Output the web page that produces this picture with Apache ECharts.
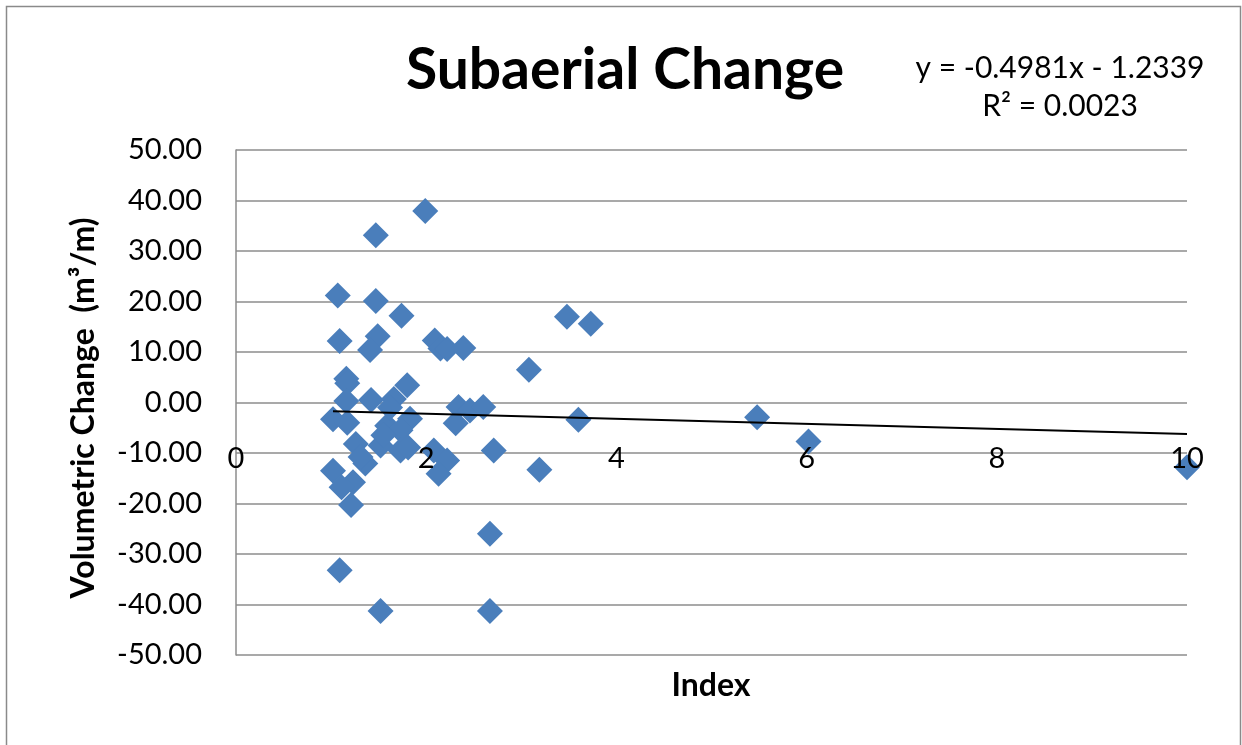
<!DOCTYPE html>
<html>
<head>
<meta charset="utf-8">
<script src="https://cdn.jsdelivr.net/npm/echarts@6/dist/echarts.min.js"></script>
<style>
html,body{margin:0;padding:0;background:#fff;}
#chart{width:1242px;height:745px;}
</style>
</head>
<body>
<div id="chart"></div>
<script>
// Index values (x) and volumetric change values (y)
var indexValues = [1.99, 1.47, 1.07, 1.47, 1.74, 1.09, 1.49, 1.41, 2.09, 2.15, 2.22, 2.39,
  3.08, 1.16, 1.17, 1.80, 1.16, 1.42, 1.66, 2.34, 2.46, 2.60, 1.02, 1.17, 1.59, 1.83,
  1.73, 2.31, 1.26, 1.52, 1.73, 1.81, 2.08, 2.22, 2.13, 2.71, 1.36, 1.31, 1.02, 1.23,
  1.11, 1.21, 3.19, 2.67, 1.09, 1.52, 2.67, 3.48, 3.73, 3.60, 5.48, 6.02, 10.0, 1.62, 1.55];
var changeValues = [37.9, 33.1, 21.2, 20.1, 17.2, 12.2, 13.1, 10.4, 12.3, 10.7, 10.6, 10.8,
  6.5, 4.7, 3.8, 3.4, 0.3, 0.5, 0.7, -0.9, -1.6, -0.9, -3.3, -4.0, -4.6, -3.2,
  -5.5, -4.1, -8.2, -8.5, -9.5, -8.9, -9.5, -11.5, -14.1, -9.5, -12.1, -10.8, -13.5, -15.8,
  -16.8, -20.3, -13.3, -26.0, -33.2, -41.3, -41.3, 17.0, 15.6, -3.4, -2.9, -7.7, -12.8, -1.0, -6.5];
// Trend line end points (linear fit shown on chart)
var trendX = [1.02, 10.0];
var trendY = [-1.74, -6.22];
var yTicks = [-50, -40, -30, -20, -10, 0, 10, 20, 30, 40, 50];
var xTicks = [0, 2, 4, 6, 8, 10];
var titleText = 'Subaerial Change';
var eqLine1 = 'y = -0.4981x - 1.2339';
var eqLine2 = 'R² = 0.0023';
var xName = 'Index';
var yName = 'Volumetric Change  (m³/m)';

var scatterData = indexValues.map(function (x, i) { return [x, changeValues[i]]; });
var trendData = trendX.map(function (x, i) { return [x, trendY[i]]; });

var FONT = 'Lato, "Open Sans", sans-serif';
var GRID_TOP = 150, GRID_BOTTOM = 90, H = 745;
var gridH = H - GRID_TOP - GRID_BOTTOM;
var chart = echarts.init(document.getElementById('chart'), null, {renderer: 'canvas'});
chart.setOption({
  backgroundColor: '#ffffff',
  animation: false,
  graphic: [
    {type: 'rect', shape: {x: 6.5, y: 6.5, width: 1234, height: 760},
     style: {fill: 'none', stroke: '#8a8a8a', lineWidth: 1.5}, silent: true},
    {type: 'text', style: {text: titleText, x: 625, y: 71, textAlign: 'center', textVerticalAlign: 'middle',
      font: 'bold 57px ' + FONT, fill: '#000'}},
    {type: 'text', style: {text: eqLine1, x: 1060, y: 68, textAlign: 'center', textVerticalAlign: 'middle',
      font: '30px ' + FONT, fill: '#000'}},
    {type: 'text', style: {text: eqLine2, x: 1060, y: 106, textAlign: 'center', textVerticalAlign: 'middle',
      font: '30px ' + FONT, fill: '#000'}},
    {type: 'text', style: {text: xName, x: 711, y: 686, textAlign: 'center', textVerticalAlign: 'middle',
      font: 'bold 32px ' + FONT, fill: '#000'}},
    {type: 'text', rotation: Math.PI / 2, x: 84, y: 408,
      style: {text: yName, x: 0, y: 0, textAlign: 'center', textVerticalAlign: 'middle',
      font: 'bold 32px ' + FONT, fill: '#000'}}
  ],
  grid: {left: 236, right: 55, top: GRID_TOP, bottom: GRID_BOTTOM, containLabel: false},
  xAxis: {
    type: 'value', min: xTicks[0], max: xTicks[xTicks.length - 1], interval: 2,
    position: 'bottom', offset: -gridH / 2, z: 10,
    axisLine: {show: false, onZero: false},
    axisTick: {show: false},
    splitLine: {show: false},
    axisLabel: {margin: 42, fontFamily: FONT, fontSize: 29, color: '#000'}
  },
  yAxis: {
    type: 'value', min: yTicks[0], max: yTicks[yTicks.length - 1], interval: 10,
    axisLine: {show: true, onZero: false, lineStyle: {color: '#8c8c8c', width: 1.5}},
    axisTick: {show: false},
    splitLine: {show: true, lineStyle: {color: '#8c8c8c', width: 1.5}},
    axisLabel: {margin: 34, fontFamily: FONT, fontSize: 29, color: '#000',
      formatter: function (v) { return v.toFixed(2); }}
  },
  series: [
    {type: 'scatter', data: scatterData, symbol: 'diamond', symbolSize: 26,
     itemStyle: {color: '#4A7EBB', opacity: 1}, z: 2},
    {type: 'line', data: trendData, symbol: 'none', showSymbol: false,
     lineStyle: {color: '#000', width: 2}, z: 3}
  ]
});
</script>
</body>
</html>
